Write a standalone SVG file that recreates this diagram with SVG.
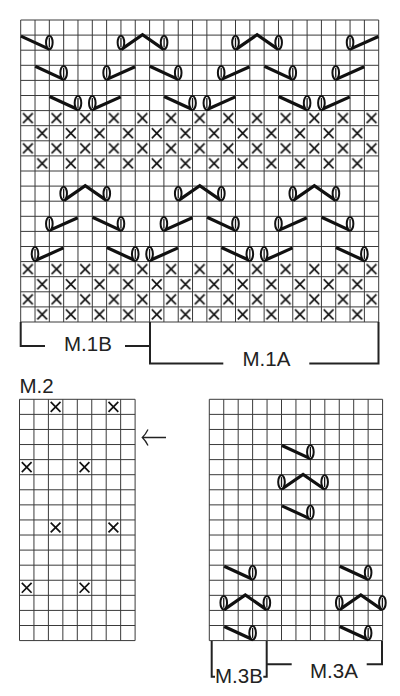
<svg xmlns="http://www.w3.org/2000/svg" width="400" height="696" viewBox="0 0 400 696">
<style>
.grid{fill:none;stroke:#3a3a3a;stroke-width:1}
.xm{fill:none;stroke:#111;stroke-width:1.7}
.th{fill:none;stroke:#111;stroke-width:3.2}
.br{fill:none;stroke:#222;stroke-width:2}
.lbl{font-family:"Liberation Sans",Arial,sans-serif;font-size:20.5px;fill:#222}
</style>
<defs>
<g id="X"><path class="xm" d="M2.3,2.6 L12.1,12.5 M12.1,2.6 L2.3,12.5"/></g>
<g id="ov"><ellipse cx="0" cy="7.4" rx="3.3" ry="6.8" fill="#fff" stroke="#111" stroke-width="2"/><line x1="0" y1="2.4" x2="0" y2="12.4" stroke="#111" stroke-width="1.3"/></g>
<g id="R"><line class="th" x1="-28.4" y1="1" x2="0.4" y2="14.3"/><use href="#ov"/></g>
<g id="L"><line class="th" x1="-0.4" y1="14.3" x2="28.4" y2="1.4"/><use href="#ov"/></g>
<g id="P"><polyline class="th" points="0.4,14.3 21.57,-0.3 42.7,14.3"/><use href="#ov"/><use href="#ov" x="43.14"/></g>
<pattern id="xp" patternUnits="userSpaceOnUse" x="20.7" y="110.6" width="28.64" height="30.2">
<path class="xm" d="M2.3,2.6 L12.1,12.5 M12.1,2.6 L2.3,12.5 M16.62,17.7 L26.42,27.6 M26.42,17.7 L16.62,27.6"/>
</pattern>
</defs>

<g id="chart-m1">
<path class="grid" d="M20.7,20V322 M35.02,20V322 M49.34,20V322 M63.66,20V322 M77.98,20V322 M92.3,20V322 M106.62,20V322 M120.94,20V322 M135.26,20V322 M149.58,20V322 M163.9,20V322 M178.22,20V322 M192.54,20V322 M206.86,20V322 M221.18,20V322 M235.5,20V322 M249.82,20V322 M264.14,20V322 M278.46,20V322 M292.78,20V322 M307.1,20V322 M321.42,20V322 M335.74,20V322 M350.06,20V322 M364.38,20V322 M378.7,20V322 M20.7,20H378.7 M20.7,35.1H378.7 M20.7,50.2H378.7 M20.7,65.3H378.7 M20.7,80.4H378.7 M20.7,95.5H378.7 M20.7,110.6H378.7 M20.7,125.7H378.7 M20.7,140.8H378.7 M20.7,155.9H378.7 M20.7,171H378.7 M20.7,186.1H378.7 M20.7,201.2H378.7 M20.7,216.3H378.7 M20.7,231.4H378.7 M20.7,246.5H378.7 M20.7,261.6H378.7 M20.7,276.7H378.7 M20.7,291.8H378.7 M20.7,306.9H378.7 M20.7,322H378.7"/>
<rect x="20.7" y="110.6" width="358" height="60.4" fill="url(#xp)"/>
<rect x="20.7" y="261.6" width="358" height="60.4" fill="url(#xp)"/>
<use href="#R" x="49.34" y="35.1"/><use href="#P" x="120.94" y="35.1"/><use href="#P" x="235.5" y="35.1"/><use href="#L" x="350.06" y="35.1"/>
<use href="#R" x="63.66" y="65.3"/><use href="#L" x="106.62" y="65.3"/><use href="#R" x="178.22" y="65.3"/><use href="#L" x="221.18" y="65.3"/><use href="#R" x="292.78" y="65.3"/><use href="#L" x="335.74" y="65.3"/>
<use href="#R" x="77.98" y="95.5"/><use href="#L" x="92.3" y="95.5"/><use href="#R" x="192.54" y="95.5"/><use href="#L" x="206.86" y="95.5"/><use href="#R" x="307.1" y="95.5"/><use href="#L" x="321.42" y="95.5"/>
<use href="#P" x="63.66" y="186.1"/><use href="#P" x="178.22" y="186.1"/><use href="#P" x="292.78" y="186.1"/>
<use href="#L" x="49.34" y="216.3"/><use href="#R" x="120.94" y="216.3"/><use href="#L" x="163.9" y="216.3"/><use href="#R" x="235.5" y="216.3"/><use href="#L" x="278.46" y="216.3"/><use href="#R" x="350.06" y="216.3"/>
<use href="#L" x="35.02" y="246.5"/><use href="#R" x="135.26" y="246.5"/><use href="#L" x="149.58" y="246.5"/><use href="#R" x="249.82" y="246.5"/><use href="#L" x="264.14" y="246.5"/><use href="#R" x="364.38" y="246.5"/>
</g>

<g id="brackets-m1">
<path class="br" d="M20.7,322V346H45 M125,346H150 M150,322V363.5H223.3 M309.3,363.5H378.5V322"/>
<text class="lbl" x="64" y="350.5">M.1B</text>
<text class="lbl" x="242.5" y="365.7">M.1A</text>
</g>

<g id="chart-m2">
<text class="lbl" x="19.5" y="393">M.2</text>
<path class="grid" d="M19.5,399.3V640.58 M33.95,399.3V640.58 M48.4,399.3V640.58 M62.85,399.3V640.58 M77.3,399.3V640.58 M91.75,399.3V640.58 M106.2,399.3V640.58 M120.65,399.3V640.58 M135.1,399.3V640.58 M19.5,399.3H135.1 M19.5,414.38H135.1 M19.5,429.46H135.1 M19.5,444.54H135.1 M19.5,459.62H135.1 M19.5,474.7H135.1 M19.5,489.78H135.1 M19.5,504.86H135.1 M19.5,519.94H135.1 M19.5,535.02H135.1 M19.5,550.1H135.1 M19.5,565.18H135.1 M19.5,580.26H135.1 M19.5,595.34H135.1 M19.5,610.42H135.1 M19.5,625.5H135.1 M19.5,640.58H135.1"/>
<use href="#X" x="48.4" y="399.3"/><use href="#X" x="106.2" y="399.3"/>
<use href="#X" x="19.5" y="459.62"/><use href="#X" x="77.3" y="459.62"/>
<use href="#X" x="48.4" y="519.94"/><use href="#X" x="106.2" y="519.94"/>
<use href="#X" x="19.5" y="580.26"/><use href="#X" x="77.3" y="580.26"/>
</g>

<g id="arrow">
<path fill="none" stroke="#222" stroke-width="1.3" d="M166,437.5H142.5 M148,429.5 Q145.5,434.5 142.3,437.5 Q145.5,440.5 148,445.5"/>
</g>

<g id="chart-m3">
<path class="grid" d="M209.3,399.3V640.58 M223.74,399.3V640.58 M238.18,399.3V640.58 M252.62,399.3V640.58 M267.06,399.3V640.58 M281.5,399.3V640.58 M295.94,399.3V640.58 M310.38,399.3V640.58 M324.82,399.3V640.58 M339.26,399.3V640.58 M353.7,399.3V640.58 M368.14,399.3V640.58 M382.58,399.3V640.58 M209.3,399.3H382.58 M209.3,414.38H382.58 M209.3,429.46H382.58 M209.3,444.54H382.58 M209.3,459.62H382.58 M209.3,474.7H382.58 M209.3,489.78H382.58 M209.3,504.86H382.58 M209.3,519.94H382.58 M209.3,535.02H382.58 M209.3,550.1H382.58 M209.3,565.18H382.58 M209.3,580.26H382.58 M209.3,595.34H382.58 M209.3,610.42H382.58 M209.3,625.5H382.58 M209.3,640.58H382.58"/>
<use href="#R" x="310.38" y="444.54"/>
<use href="#P" x="281.5" y="474.7"/>
<use href="#R" x="310.38" y="504.86"/>
<use href="#R" x="252.62" y="565.18"/><use href="#R" x="368.14" y="565.18"/>
<use href="#P" x="223.74" y="595.34"/><use href="#P" x="339.26" y="595.34"/>
<use href="#R" x="252.62" y="625.5"/><use href="#R" x="368.14" y="625.5"/>
</g>

<g id="brackets-m3">
<path class="br" d="M211.7,641V676.7H215 M263.3,676.7H266.7V641 M266.7,664.3H291.7 M366.7,664.3H382V641"/>
<text class="lbl" x="215" y="683.3">M.3B</text>
<text class="lbl" x="310" y="678.3">M.3A</text>
</g>
</svg>
